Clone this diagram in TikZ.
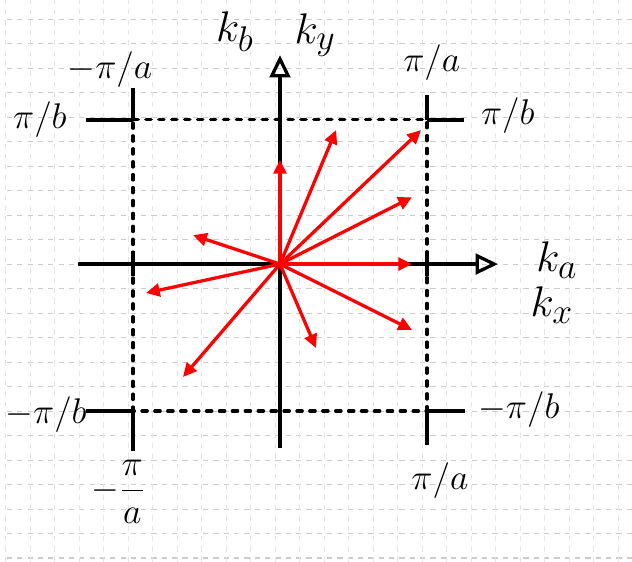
\documentclass[tikz,border=0pt]{standalone}
\usetikzlibrary{arrows.meta}
\begin{document}
\begin{tikzpicture}[x=0.5cm,y=0.5cm]
  \tikzset{axis line/.style={line width=2.3pt, -{Triangle[open,length=13pt,width=12pt,line width=1.9pt]}},
    zone line/.style={line width=2pt, line cap=round, dash pattern=on 3pt off 4.5pt},
    tick line/.style={line width=2.3pt},
    wave vector/.style={red, line width=1.9pt, -{Triangle[length=8pt,width=7.5pt]}},
    k label/.style={font=\fontsize{28}{30}\selectfont, inner sep=0pt},
    zone label/.style={font=\huge, inner sep=0pt}}
  \useasboundingbox (-11.43,-12.16) rectangle (14.37,10.78);
  % squared paper
  \foreach \y in {-12,...,10}
    \draw[gray!40, dashed, line width=0.6pt] (-11.15,\y) -- (14.37,\y);
  \foreach \x in {-11,...,14}
    \draw[gray!20, dashed, line width=0.5pt] (\x-0.2,-12.16) -- (\x-0.2,10.78);
  % first Brillouin zone
  \coordinate (O) at (0,0);
  \coordinate (tl) at (-6,5.9);
  \coordinate (tr) at (6,5.9);
  \coordinate (bl) at (-6,-6);
  \coordinate (br) at (6,-6);
  \draw[zone line] (tl) -- (tr) -- (br) -- (bl) -- cycle;
  \draw[tick line] (tl) -- ++(-1.9,0) (tl) -- ++(0,1.3);
  \draw[tick line] (tr) -- ++(1.5,0) (tr) -- ++(0,1.0);
  \draw[tick line] (bl) -- ++(-1.9,0) (bl) -- ++(0,-1.65);
  \draw[tick line] (br) -- ++(1.55,0) (br) -- ++(0,-1.4);
  \draw[tick line] (-6,-0.5) -- (-6,0.55);
  \draw[tick line] (6,-0.5) -- (6,0.55);
  % axes
  \coordinate (xa) at (-8.24,0);
  \coordinate (xb) at (8.9,0);
  \coordinate (ya) at (0,-7.5);
  \coordinate (yb) at (0,8.53);
  \draw[axis line] (xa) -- (xb);
  \draw[axis line] (ya) -- (yb);
  % wave vectors
  \foreach \x/\y [count=\i] in {0/4.25, 2.29/5.47, 5.76/5.47, 5.39/2.73, 5.39/0,
      5.39/-2.69, 1.47/-3.43, -3.96/-4.61, -5.47/-1.18, -3.55/1.18} {
    \coordinate (k\i) at (\x,\y);
    \draw[wave vector] (O) -- (k\i);
  }
  % labels
  \node[k label] (kb) at (-1.84,9.47) {$k_b$};
  \node[k label] (ky) at (1.43,9.35) {$k_y$};
  \node[k label] (ka) at (11.3,0.16) {$k_a$};
  \node[k label] (kx) at (11.1,-1.67) {$k_x$};
  \node[zone label] (mpa top) at (-6.94,7.92) {$-\pi/a$};
  \node[zone label] (pb left) at (-9.8,5.88) {$\pi/b$};
  \node[zone label] (pa top) at (6.2,8.24) {$\pi/a$};
  \node[zone label] (pb right) at (9.3,6.08) {$\pi/b$};
  \node[zone label] (mpb left) at (-9.55,-6.16) {$-\pi/b$};
  \node[zone label] (mpa bottom) at (-6.6,-9.3) {$\displaystyle-\frac{\pi}{a}$};
  \node[zone label] (mpb right) at (9.75,-5.96) {$-\pi/b$};
  \node[zone label] (pa bottom) at (6.53,-8.85) {$\pi/a$};
\end{tikzpicture}
\end{document}
